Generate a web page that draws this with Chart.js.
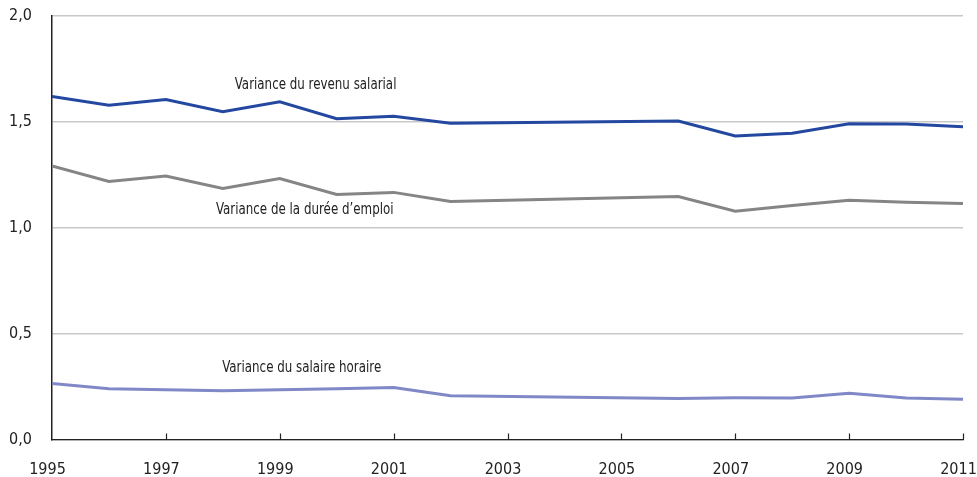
<!DOCTYPE html>
<html>
<head>
<meta charset="utf-8">
<script src="https://cdn.jsdelivr.net/npm/chart.js@4/dist/chart.umd.min.js"></script>
<style>
  html, body { margin: 0; padding: 0; background: #fff; overflow: hidden; }
  #wrap { width: 977px; height: 477px; position: relative; }
</style>
</head>
<body>
<div id="wrap"><canvas id="chart"></canvas></div>
<script>
// years with data (2003-2005 have no points, the line just joins 2002 and 2006)
const years = [1995, 1996, 1997, 1998, 1999, 2000, 2001, 2002, 2006, 2007, 2008, 2009, 2010, 2011];
const revenuSalarial = [1.620, 1.579, 1.606, 1.548, 1.595, 1.515, 1.526, 1.494, 1.504, 1.433, 1.446, 1.491, 1.490, 1.477];
const dureeEmploi    = [1.292, 1.219, 1.244, 1.185, 1.232, 1.157, 1.167, 1.124, 1.147, 1.078, 1.105, 1.130, 1.120, 1.114];
const salaireHoraire = [0.265, 0.240, 0.235, 0.230, 0.235, 0.240, 0.246, 0.207, 0.194, 0.197, 0.196, 0.218, 0.196, 0.190];

const seriesLabels = ['Variance du revenu salarial', 'Variance de la durée d\u2019emploi', 'Variance du salaire horaire'];
const xTicks = [1995, 1997, 1999, 2001, 2003, 2005, 2007, 2009, 2011];
const yTicks = [0, 0.5, 1, 1.5, 2];

const FONT = "'DejaVu Sans Condensed', 'DejaVu Sans', sans-serif";

// line labels placed in data coordinates (year, value), left aligned
const lineLabels = [
    { text: seriesLabels[0], x: 1998.21, y: 1.672 },
    { text: seriesLabels[1], x: 1997.88, y: 1.083 },
    { text: seriesLabels[2], x: 1997.99, y: 0.337 }
];

function toPoints(vals) {
    return years.map((yr, i) => ({ x: yr, y: vals[i] }));
}

function noPad(axis) {
    axis.paddingLeft = 0; axis.paddingRight = 0;
    axis.paddingTop = 0; axis.paddingBottom = 0;
}

const labelPlugin = {
    id: 'lineLabels',
    afterDatasetsDraw(chart) {
        const ctx = chart.ctx;
        const xs = chart.scales.x, ys = chart.scales.y;
        ctx.save();
        // inward tick marks on the x axis
        ctx.strokeStyle = '#222';
        ctx.lineWidth = 1.2;
        xTicks.forEach(t => {
            if (t === xTicks[0]) return;
            const px = Math.round(xs.getPixelForValue(t)) + 0.5;
            ctx.beginPath();
            ctx.moveTo(px, ys.bottom);
            ctx.lineTo(px, ys.bottom - 6);
            ctx.stroke();
        });
        // series names, slightly condensed to mimic the narrow typeface
        ctx.font = '15px ' + FONT;
        ctx.fillStyle = '#222';
        ctx.textAlign = 'left';
        ctx.textBaseline = 'middle';
        lineLabels.forEach(l => {
            const px = xs.getPixelForValue(l.x), py = ys.getPixelForValue(l.y);
            ctx.save();
            ctx.translate(px, py);
            ctx.scale(0.88, 1);
            ctx.fillText(l.text, 0, 0);
            ctx.restore();
        });
        ctx.restore();
    }
};

new Chart(document.getElementById('chart').getContext('2d'), {
    type: 'line',
    data: {
        datasets: [
            { label: seriesLabels[0], data: toPoints(revenuSalarial), borderColor: '#2448a0', borderWidth: 3 },
            { label: seriesLabels[1], data: toPoints(dureeEmploi), borderColor: '#858585', borderWidth: 3 },
            { label: seriesLabels[2], data: toPoints(salaireHoraire), borderColor: '#8088c8', borderWidth: 3 }
        ]
    },
    options: {
        responsive: true, maintainAspectRatio: false, animation: false,
        elements: { point: { radius: 0 }, line: { tension: 0, borderCapStyle: 'butt' } },
        layout: { padding: { top: 16, right: 14, left: 0, bottom: 0 } },
        plugins: { legend: { display: false }, tooltip: { enabled: false } },
        scales: {
            x: {
                type: 'linear', min: 1995, max: 2011,
                afterBuildTicks: axis => { axis.ticks = xTicks.map(v => ({ value: v })); },
                afterFit: axis => { axis.height = 37.5; noPad(axis); },
                ticks: { font: { family: FONT, size: 16 }, color: '#222', padding: 21, maxRotation: 0,
                         labelOffset: -4.5, callback: v => String(v) },
                grid: { display: false, drawTicks: false },
                border: { display: true, color: '#222', width: 1.2 }
            },
            y: {
                min: 0, max: 2,
                afterBuildTicks: axis => { axis.ticks = yTicks.map(v => ({ value: v })); },
                afterFit: axis => { axis.width = 52; noPad(axis); },
                ticks: { font: { family: FONT, size: 16 }, color: '#222', padding: 20,
                         callback: v => v.toFixed(1).replace('.', ',') },
                grid: { color: '#c8c8c8', lineWidth: 1.5, drawTicks: false },
                border: { display: true, color: '#222', width: 1.5 }
            }
        }
    },
    plugins: [labelPlugin]
});
</script>
</body>
</html>
